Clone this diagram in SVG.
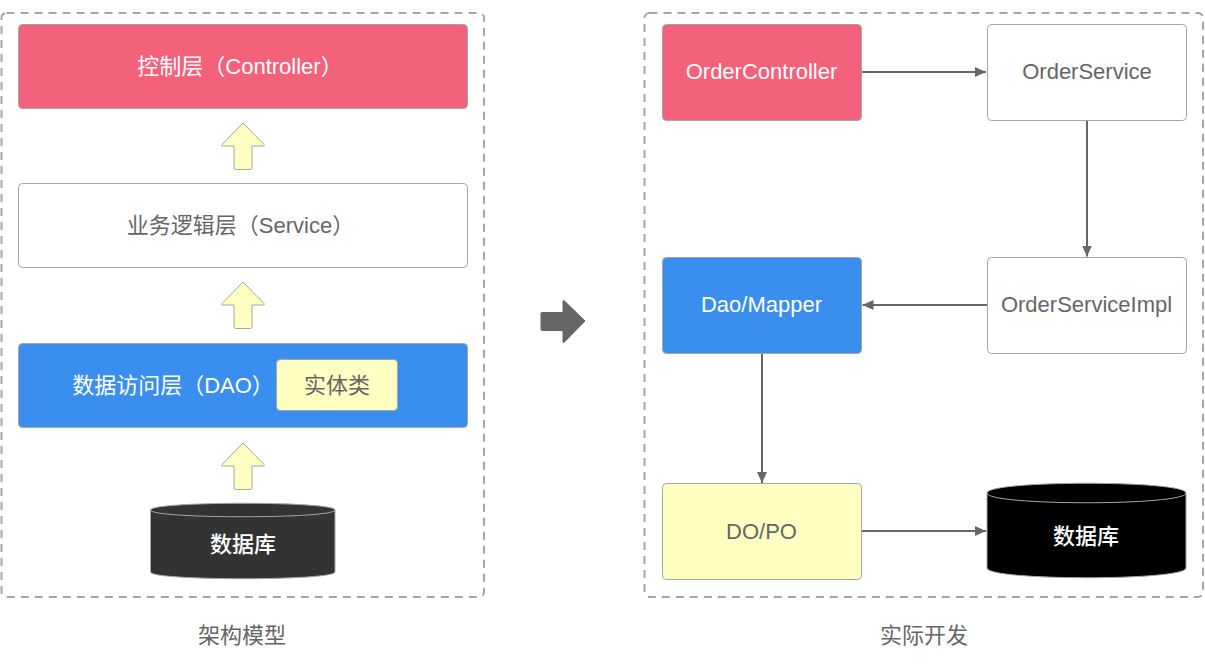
<svg xmlns="http://www.w3.org/2000/svg" width="1205" height="668" viewBox="0 0 1205 668">
<style>
text{font-family:"Liberation Sans","Noto Sans CJK SC",sans-serif;font-size:22px;text-anchor:middle;dominant-baseline:central;fill:#666}
.w{fill:#fff}
.m{font-family:"Noto Sans CJK SC",sans-serif;font-weight:500}
.frame{fill:none;stroke:#a6a6a6;stroke-width:2;stroke-dasharray:8 6}
.box{stroke:#a6a6a6;stroke-width:1}
.up{fill:#ffffc2;stroke:#a6a6a6;stroke-width:1;stroke-linejoin:round}
.c{fill:none;stroke:#666;stroke-width:2;marker-end:url(#a)}
</style>
<defs>
<marker id="a" markerUnits="userSpaceOnUse" markerWidth="11" markerHeight="10" refX="11" refY="5" orient="auto"><path d="M0 0L11 5L0 10Z" fill="#666"/></marker>
<path id="u" class="up" d="M0 0L21 21.500Q22 23 20.500 23L9 23L9 45Q9 46.500 7.500 46.500L-7.500 46.500Q-9 46.500 -9 45L-9 23L-20.500 23Q-22 23 -21 21.500Z" />
</defs>
<rect class="frame" x="1.500" y="13" width="482.500" height="584" rx="5"/>
<rect class="frame" x="644.500" y="13" width="558.500" height="584" rx="5"/>
<g id="controller-layer"><rect class="box" x="18.500" y="24.500" width="449" height="84" rx="4" fill="#f4617a"/><text class="w" x="240" y="66">控制层（Controller）</text></g>
<g id="service-layer"><rect class="box" x="18.500" y="183.500" width="449" height="84" rx="4" fill="#fff"/><text x="240.500" y="225">业务逻辑层（Service）</text></g>
<g id="dao-layer"><rect class="box" x="18.500" y="343.500" width="449" height="84" rx="4" fill="#3a8eed"/><text class="w" x="173" y="385">数据访问层（DAO）</text></g>
<g id="entity"><rect class="box" x="276.500" y="359.500" width="121" height="51" rx="4" fill="#ffffc2"/><text x="337" y="385">实体类</text></g>
<g id="db-left"><path d="M150.500 510C150.500 501 335 501 335 510V572C335 581 150.500 581 150.500 572Z" fill="#333" stroke="#a6a6a6"/><path d="M150.500 510C150.500 519 335 519 335 510" fill="none" stroke="#a6a6a6"/><text class="w m" x="243" y="542">数据库</text></g>
<g id="up-arrows"><use href="#u" x="243" y="123"/><use href="#u" x="243" y="282"/><use href="#u" x="243" y="443"/></g>
<g id="big-arrow"><path d="M542 312.500H563V301.500Q563 299.500 565 301.500L585 321L565 341.500Q563 343.500 563 341.500V330.500H542Q541 330.500 541 329.500V313.500Q541 312.500 542 312.500Z" fill="#666" stroke="#666" stroke-linejoin="round"/></g>
<g id="order-controller"><rect class="box" x="662.500" y="24.500" width="199" height="96" rx="4" fill="#f4617a"/><text class="w" x="761.500" y="71">OrderController</text></g>
<g id="order-service"><rect class="box" x="987.500" y="24.500" width="199" height="96" rx="4" fill="#fff"/><text x="1087" y="71">OrderService</text></g>
<g id="order-service-impl"><rect class="box" x="987.500" y="257.500" width="199" height="96" rx="4" fill="#fff"/><text x="1086.500" y="304">OrderServiceImpl</text></g>
<g id="dao-mapper"><rect class="box" x="662.500" y="257.500" width="199" height="96" rx="4" fill="#3a8eed"/><text class="w" x="761.500" y="304">Dao/Mapper</text></g>
<g id="do-po"><rect class="box" x="662.500" y="483.500" width="199" height="96" rx="4" fill="#ffffc2"/><text x="761.500" y="531">DO/PO</text></g>
<g id="db-right"><path d="M987 493C987 480 1186 480 1186 493V568C1186 581 987 581 987 568Z" fill="#000" stroke="#a6a6a6"/><path d="M987 493C987 506 1186 506 1186 493" fill="none" stroke="#a6a6a6"/><text class="w m" x="1086" y="534">数据库</text></g>
<g id="connectors">
<path class="c" d="M862 72H986"/>
<path class="c" d="M1087 121V256.500"/>
<path class="c" d="M987 305H862.500"/>
<path class="c" d="M762 354V483"/>
<path class="c" d="M862 531H986"/>
</g>
<g id="captions"><text x="242" y="635">架构模型</text><text x="924" y="635">实际开发</text></g>
</svg>
